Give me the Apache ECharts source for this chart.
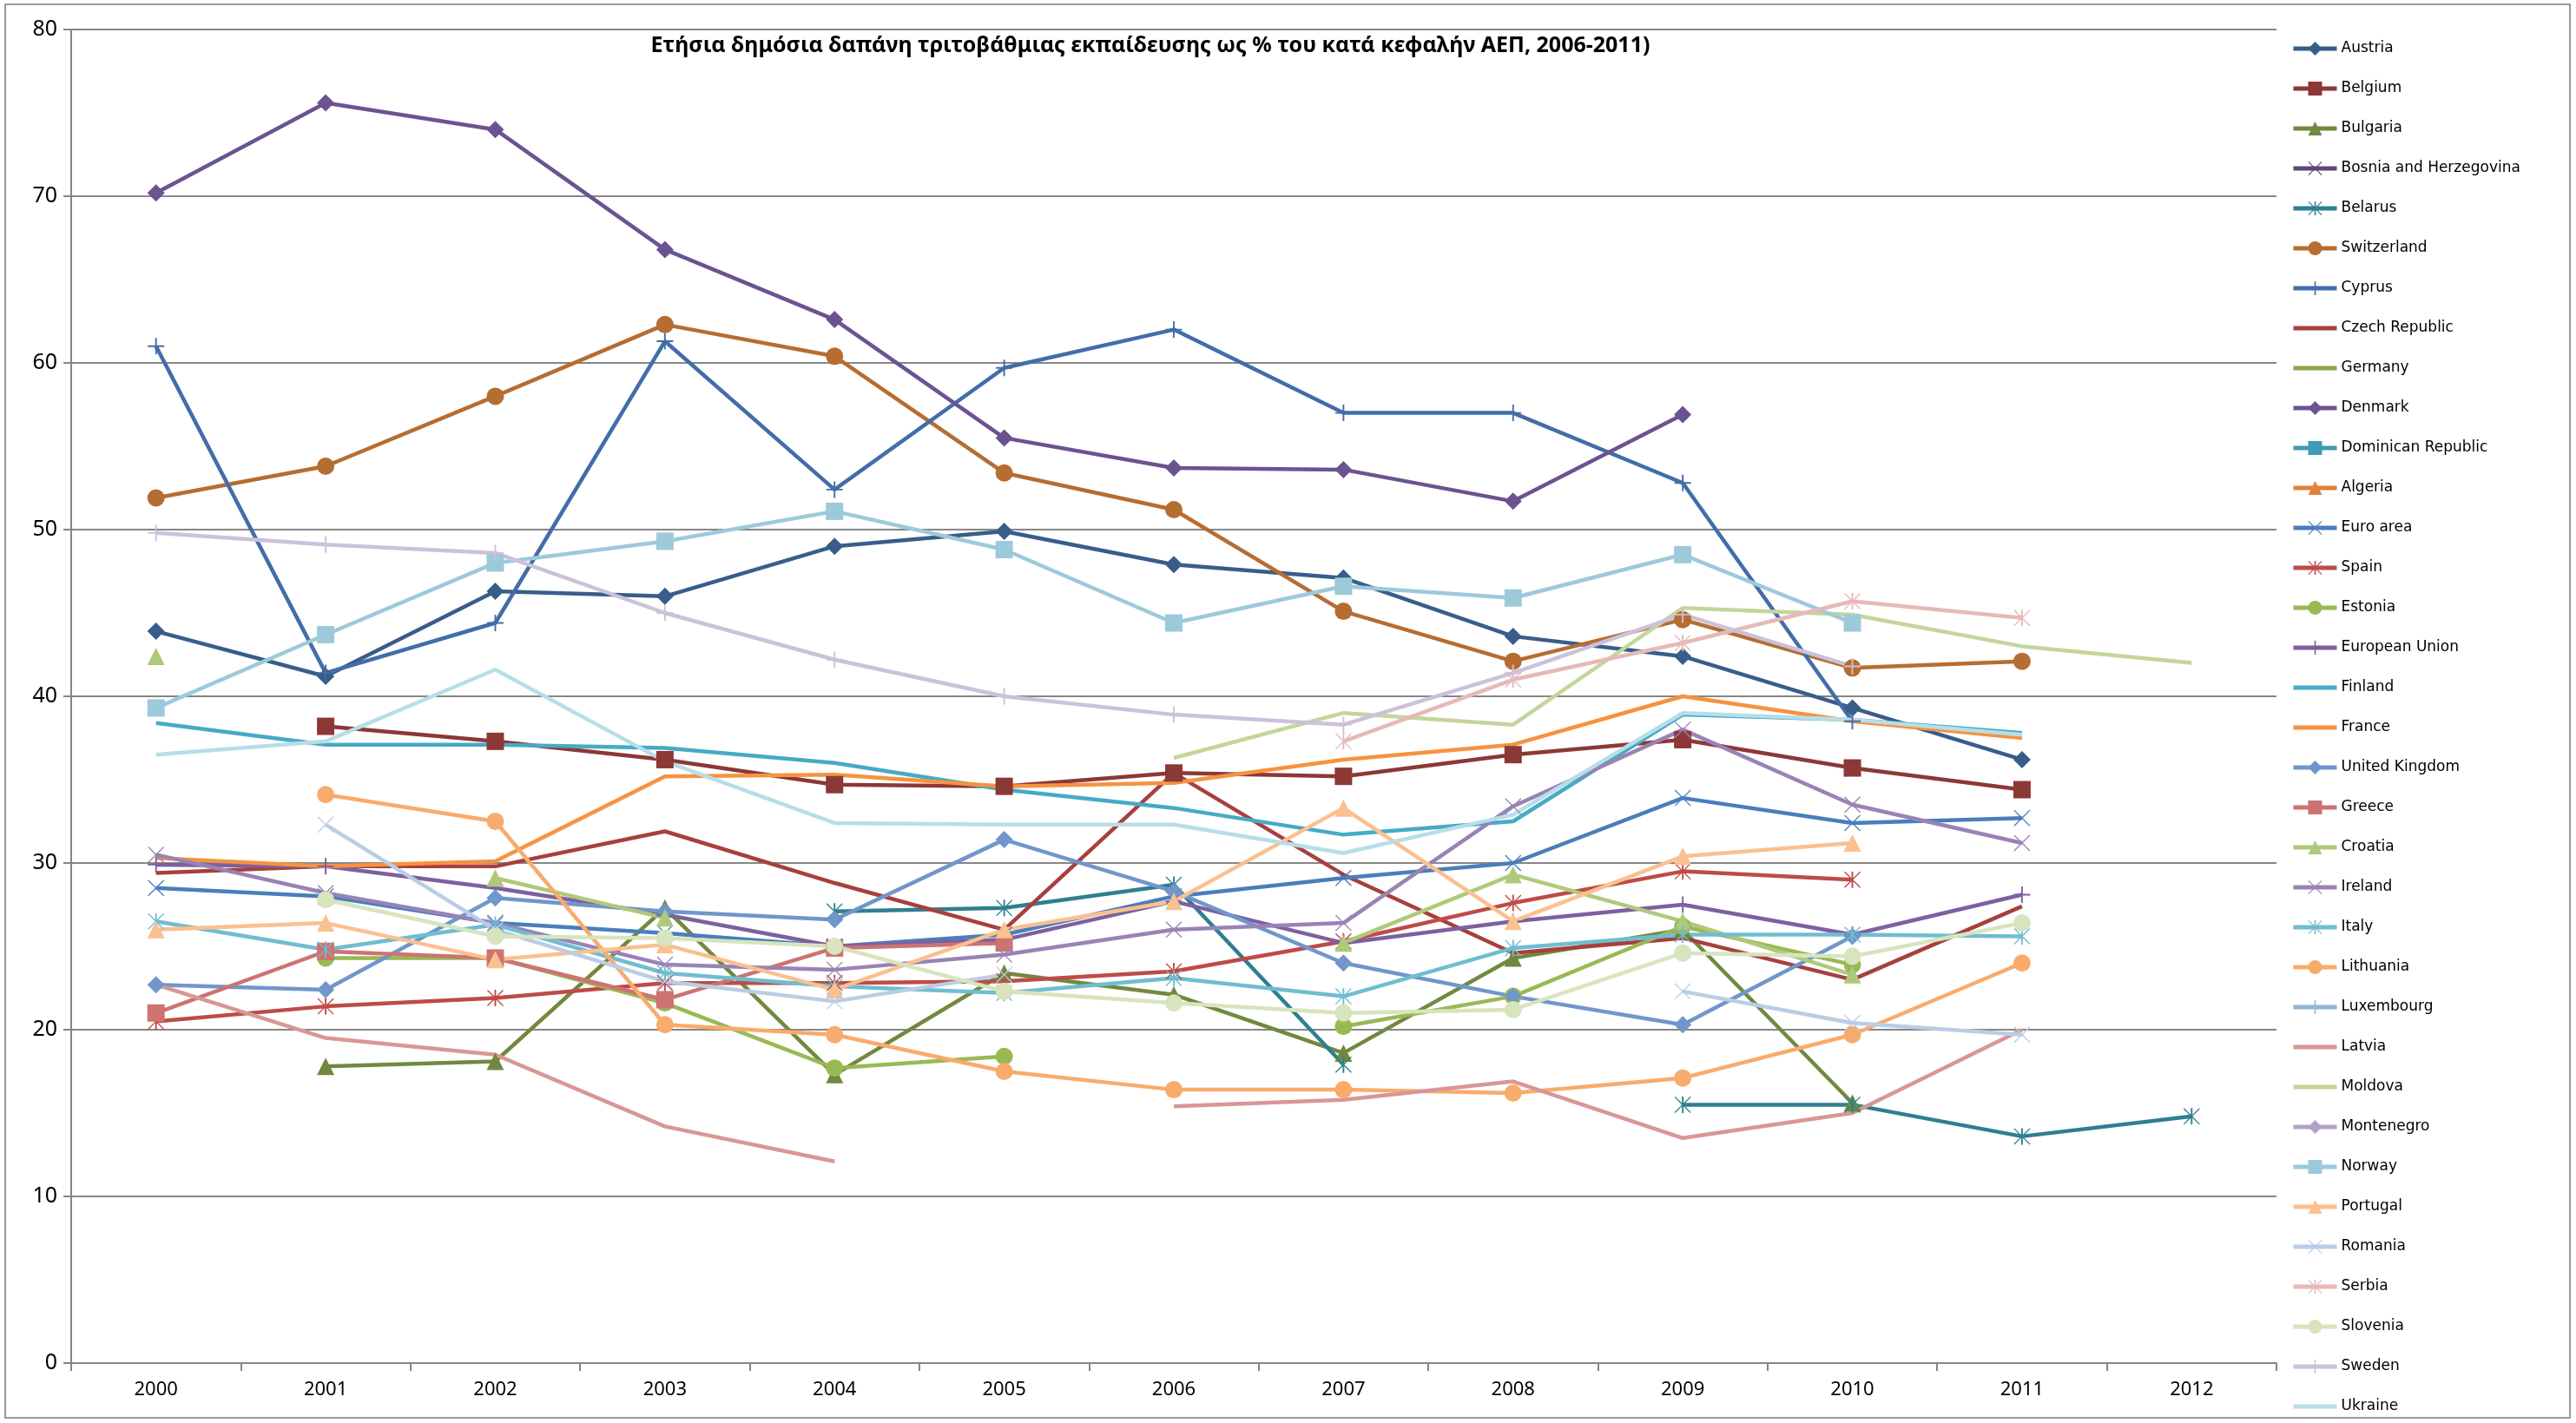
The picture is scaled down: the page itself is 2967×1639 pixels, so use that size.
<!DOCTYPE html>
<html>
<head>
<meta charset="utf-8">
<script src="https://cdn.jsdelivr.net/npm/echarts@6/dist/echarts.min.js"></script>
<style>
  html, body { margin: 0; padding: 0; background: #fff; }
  #chart { width: 2967px; height: 1639px; }
</style>
</head>
<body>
<div id="chart"></div>
<script>
// years on the x axis
const years = ['2000', '2001', '2002', '2003', '2004', '2005', '2006', '2007', '2008', '2009', '2010', '2011', '2012']
const yTicks = [0, 10, 20, 30, 40, 50, 60, 70, 80]

// values, 2000 .. 2012 (null = no value)
const austria = [43.9, 41.2, 46.3, 46.0, 49.0, 49.9, 47.9, 47.1, 43.6, 42.4, 39.3, 36.2, null]
const belgium = [null, 38.2, 37.3, 36.2, 34.7, 34.6, 35.4, 35.2, 36.5, 37.4, 35.7, 34.4, null]
const bulgaria = [null, 17.8, 18.1, 27.3, 17.3, 23.4, 22.1, 18.6, 24.3, 26.0, 15.6, null, null]
const bosnia = [null, null, null, null, null, null, null, null, null, null, null, null, null]
const belarus = [null, null, null, null, 27.1, 27.3, 28.7, 17.9, null, 15.5, 15.5, 13.6, 14.8]
const switzerland = [51.9, 53.8, 58.0, 62.3, 60.4, 53.4, 51.2, 45.1, 42.1, 44.6, 41.7, 42.1, null]
const cyprus = [61.0, 41.4, 44.4, 61.3, 52.4, 59.7, 62.0, 57.0, 57.0, 52.8, 38.5, null, null]
const czech = [29.4, 29.8, 29.8, 31.9, 28.8, 26.0, 35.4, 29.3, 24.6, 25.5, 23.0, 27.4, null]
const germany = [null, null, null, null, null, null, null, null, null, null, null, null, null]
const denmark = [70.2, 75.6, 74.0, 66.8, 62.6, 55.5, 53.7, 53.6, 51.7, 56.9, null, null, null]
const dominican = [null, null, null, null, null, null, null, null, null, null, null, null, null]
const algeria = [null, null, null, null, null, null, null, null, null, null, null, null, null]
const euroArea = [28.5, 28.0, 26.4, 25.8, 25.0, 25.7, 28.0, 29.1, 30.0, 33.9, 32.4, 32.7, null]
const spain = [20.5, 21.4, 21.9, 22.8, 22.8, 22.9, 23.5, 25.3, 27.6, 29.5, 29.0, null, null]
const estonia = [null, 24.3, 24.3, 21.6, 17.7, 18.4, null, 20.2, 22.0, 26.2, 23.9, null, null]
const europeanUnion = [29.9, 29.8, 28.5, 26.9, 25.0, 25.4, 27.7, 25.2, 26.5, 27.5, 25.7, 28.1, null]
const finland = [38.4, 37.1, 37.1, 36.9, 36.0, 34.4, 33.3, 31.7, 32.5, 38.9, 38.6, 37.8, null]
const france = [30.3, 29.8, 30.1, 35.2, 35.3, 34.6, 34.8, 36.2, 37.1, 40.0, 38.5, 37.5, null]
const unitedKingdom = [22.7, 22.4, 27.9, 27.1, 26.6, 31.4, 28.3, 24.0, 22.0, 20.3, 25.6, null, null]
const greece = [21.0, 24.7, 24.3, 21.8, 24.9, 25.2, null, null, null, null, null, null, null]
const croatia = [42.4, null, 29.1, 26.7, null, null, null, 25.2, 29.3, 26.5, 23.3, null, null]
const ireland = [30.5, 28.2, 26.4, 23.9, 23.6, 24.5, 26.0, 26.4, 33.4, 38.0, 33.5, 31.2, null]
const italy = [26.5, 24.8, 26.3, 23.4, 22.6, 22.2, 23.1, 22.0, 24.9, 25.7, 25.7, 25.6, null]
const lithuania = [null, 34.1, 32.5, 20.3, 19.7, 17.5, 16.4, 16.4, 16.2, 17.1, 19.7, 24.0, null]
const luxembourg = [null, null, null, null, null, null, null, null, null, null, null, null, null]
const latvia = [22.7, 19.5, 18.5, 14.2, 12.1, null, 15.4, 15.8, 16.9, 13.5, 15.0, 20.0, null]
const moldova = [null, null, null, null, null, null, 36.3, 39.0, 38.3, 45.3, 44.9, 43.0, 42.0]
const montenegro = [null, null, null, null, null, null, null, null, null, null, null, null, null]
const norway = [39.3, 43.7, 48.0, 49.3, 51.1, 48.8, 44.4, 46.6, 45.9, 48.5, 44.4, null, null]
const portugal = [26.0, 26.4, 24.2, 25.1, 22.4, 26.0, 27.7, 33.3, 26.5, 30.4, 31.2, null, null]
const romania = [null, 32.3, 26.0, 22.9, 21.7, 23.3, null, null, null, 22.3, 20.4, 19.7, null]
const serbia = [null, null, null, null, null, null, null, 37.3, 41.0, 43.2, 45.7, 44.7, null]
const slovenia = [null, 27.8, 25.6, 25.5, 25.0, 22.3, 21.6, 21.0, 21.2, 24.6, 24.4, 26.4, null]
const sweden = [49.8, 49.1, 48.6, 45.0, 42.2, 40.0, 38.9, 38.3, 41.4, 44.9, 41.8, null, null]
const ukraine = [36.5, 37.3, 41.6, 36.1, 32.4, 32.3, 32.3, 30.6, 32.9, 39.0, 38.6, 37.7, null]

// marker shapes (excel style cross / x / asterisk)
const xMark = 'path://M1,0 L10,9 L19,0 L20,1 L11,10 L20,19 L19,20 L10,11 L1,20 L0,19 L9,10 L0,1 Z'
const plusMark = 'path://M9,0 L11,0 L11,9 L20,9 L20,11 L11,11 L11,20 L9,20 L9,11 L0,11 L0,9 L9,9 Z'
const starMark = 'path://M1,0 L10,9 L19,0 L20,1 L11,10 L20,19 L19,20 L10,11 L1,20 L0,19 L9,10 L0,1 Z M9,0 L11,0 L11,20 L9,20 Z'
const markCycle = ['diamond', 'rect', 'triangle', xMark, starMark, 'circle', plusMark, 'none', 'none']

const seriesList = [
  ['Austria', austria, '#385D8A'],
  ['Belgium', belgium, '#8C3836'],
  ['Bulgaria', bulgaria, '#71893F'],
  ['Bosnia and Herzegovina', bosnia, '#5C4776'],
  ['Belarus', belarus, '#2E7F91'],
  ['Switzerland', switzerland, '#B66D31'],
  ['Cyprus', cyprus, '#426DA9'],
  ['Czech Republic', czech, '#A7403D'],
  ['Germany', germany, '#88A64C'],
  ['Denmark', denmark, '#6B5391'],
  ['Dominican Republic', dominican, '#3E9BB3'],
  ['Algeria', algeria, '#E0803A'],
  ['Euro area', euroArea, '#4A7EBB'],
  ['Spain', spain, '#BE4B48'],
  ['Estonia', estonia, '#98B954'],
  ['European Union', europeanUnion, '#7D60A0'],
  ['Finland', finland, '#46AAC5'],
  ['France', france, '#F69240'],
  ['United Kingdom', unitedKingdom, '#7096CB'],
  ['Greece', greece, '#CD7371'],
  ['Croatia', croatia, '#AFC97A'],
  ['Ireland', ireland, '#9983B5'],
  ['Italy', italy, '#6FBDD1'],
  ['Lithuania', lithuania, '#F9AB6B'],
  ['Luxembourg', luxembourg, '#95B3D7'],
  ['Latvia', latvia, '#D99694'],
  ['Moldova', moldova, '#C3D69B'],
  ['Montenegro', montenegro, '#B3A2C7'],
  ['Norway', norway, '#9CCADB'],
  ['Portugal', portugal, '#FAC090'],
  ['Romania', romania, '#B9CDE5'],
  ['Serbia', serbia, '#E6B9B8'],
  ['Slovenia', slovenia, '#D7E4BD'],
  ['Sweden', sweden, '#CCC1DA'],
  ['Ukraine', ukraine, '#B7DEE8'],
]

const chart = echarts.init(document.getElementById('chart'))

const series = seriesList.map((item, i) => {
  const mark = markCycle[i % 9]
  const thin = mark === xMark || mark === plusMark || mark === starMark
  return {
    name: item[0],
    type: 'line',
    data: item[1],
    symbol: mark,
    symbolSize: thin ? 19 : 20,
    showSymbol: mark !== 'none',
    lineStyle: { color: item[2], width: 4.5 },
    itemStyle: { color: item[2], borderColor: item[2], borderWidth: 0 },
    emphasis: { disabled: true },
    connectNulls: false,
  }
})

// series without markers get a plain line in the legend
const legendData = seriesList.map((s, i) => {
  if (markCycle[i % 9] === 'none') {
    return { name: s[0], itemStyle: { opacity: 0 } }
  }
  return { name: s[0] }
})

chart.setOption({
  animation: false,
  backgroundColor: '#fff',
  textStyle: { fontFamily: 'Noto Sans' },
  grid: { left: 82, right: 345, top: 34, bottom: 69 },
  legend: {
    orient: 'vertical',
    left: 2634,
    top: 41,
    itemWidth: 50,
    itemHeight: 20,
    itemGap: 26,
    lineStyle: { width: 5 },
    textStyle: { fontSize: 17, lineHeight: 20, color: '#000', fontFamily: 'DejaVu Sans' },
    data: legendData,
  },
  xAxis: {
    type: 'category',
    data: years,
    boundaryGap: true,
    axisLine: { lineStyle: { color: '#868686', width: 2 } },
    axisTick: { show: true, length: 9, lineStyle: { color: '#868686', width: 2 } },
    axisLabel: { fontSize: 22, color: '#000', margin: 20 },
  },
  yAxis: {
    type: 'value',
    min: yTicks[0],
    max: yTicks[yTicks.length - 1],
    interval: 10,
    axisLine: { show: true, lineStyle: { color: '#868686', width: 2 } },
    axisTick: { show: true, length: 9, lineStyle: { color: '#868686', width: 2 } },
    axisLabel: { fontSize: 25, color: '#000', margin: 16 },
    splitLine: { lineStyle: { color: '#868686', width: 2 } },
  },
  graphic: [
    {
      type: 'rect',
      shape: { x: 6, y: 5, width: 2954, height: 1628 },
      style: { fill: 'none', stroke: '#9a9a9a', lineWidth: 2 },
      silent: true,
    },
    {
      type: 'text',
      x: 1325,
      y: 53,
      style: {
        text: 'Ετήσια δημόσια δαπάνη τριτοβάθμιας εκπαίδευσης ως % του κατά κεφαλήν ΑΕΠ, 2006-2011)',
        font: 'bold 25px "Noto Sans"',
        fill: '#000',
        textAlign: 'center',
        textVerticalAlign: 'middle',
      },
      z: 10,
    },
  ],
  series: series,
})
</script>
</body>
</html>
